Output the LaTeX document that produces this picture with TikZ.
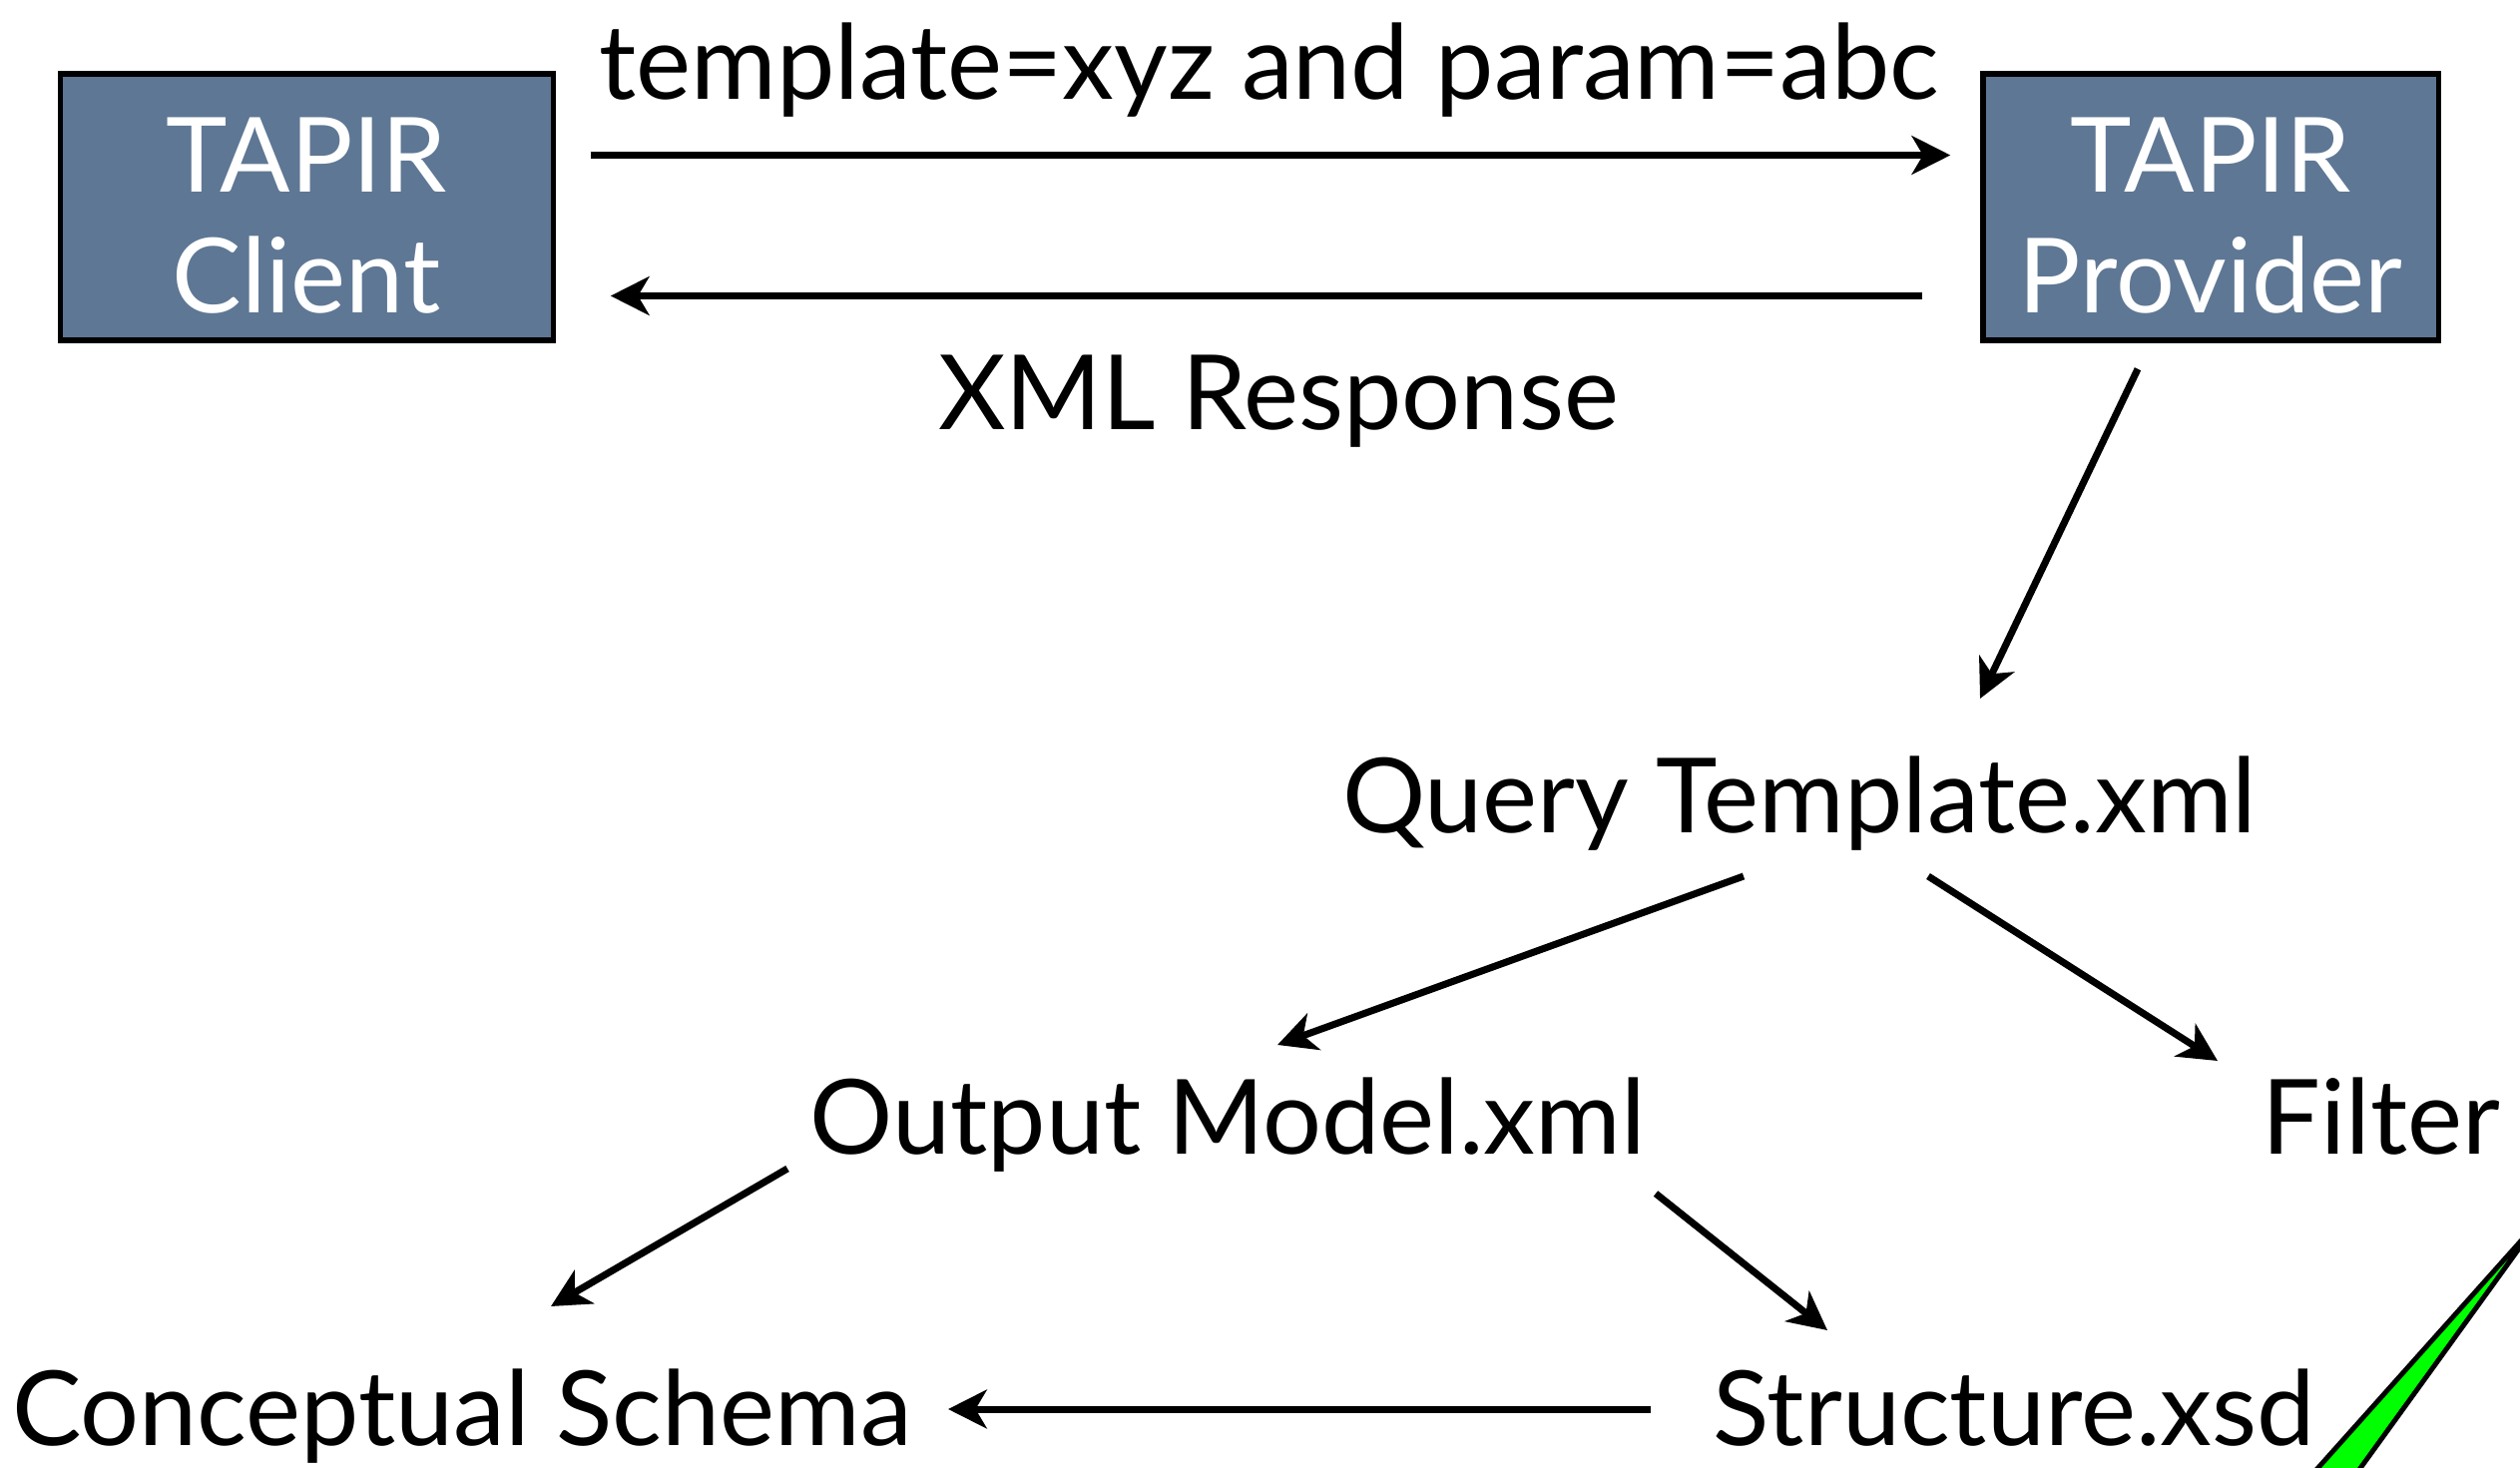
\documentclass[tikz,border=0pt]{standalone}
\usepackage{fontspec}
\setmainfont{Lato}
\usetikzlibrary{calc,arrows.meta}
\definecolor{slate}{RGB}{94,119,148}
\definecolor{brightgreen}{RGB}{0,255,0}
\tikzset{
  lbl/.style={inner sep=0pt, anchor=base, font=\fontsize{29.6pt}{35pt}\selectfont},
  boxlbl/.style={lbl, text=white},
  tapirbox/.style={draw=black, line width=1.5pt, fill=slate, minimum width=4.93cm, minimum height=2.67cm, inner sep=0pt},
  arr/.style={line width=2pt, -{Stealth[length=11pt, width=11pt, inset=3.2pt]}}
}
\begin{document}
\begin{tikzpicture}[x=0.01cm, y=-0.01cm]
\useasboundingbox (0,0) rectangle (2525,1470);
% boxes
\node[tapirbox] (client) at (307.5,207.5) {};
\node[tapirbox, minimum width=4.56cm] (provider) at (2215,207.5) {};
\node[boxlbl] (clientA) at (307,193) {TAPIR};
\node[boxlbl] (clientB) at (307,314) {Client};
\node[boxlbl] (provA) at (2215,193) {TAPIR};
\node[boxlbl] (provB) at (2215,314) {Provider};
% labels
\node[lbl] (req) at (1272,100) {template=xyz and param=abc};
\node[lbl] (resp) at (1281,430) {XML Response};
\node[lbl] (query) at (1803,834) {Query Template.xml};
\node[lbl] (output) at (1230,1156) {Output Model.xml};
\node[lbl] (filter) at (2386,1156) {Filter};
\node[lbl] (concept) at (463,1448) {Conceptual Schema};
\node[lbl] (structure) at (2018,1448) {Structure.xsd};
% connectors
\draw[arr] ($(client.east)+(35,-52)$) -- ($(provider.west)+(-30,-52)$);
\draw[arr] ($(provider.west)+(-58,89)$) -- ($(client.east)+(55,89)$);
\draw[arr] ($(provider.south)+(-73,26)$) -- ($(query.base)+(181,-134)$);
\draw[arr] ($(query.base)+(-56,44)$) -- ($(output.base)+(50,-109)$);
\draw[arr] ($(query.base)+(129,44)$) -- ($(filter.base)+(-164,-93)$);
\draw[arr] ($(output.base)+(-441,15)$) -- ($(concept.base)+(89,-139)$);
\draw[arr] ($(output.base)+(429,40)$) -- ($(structure.base)+(-187,-115)$);
\draw[arr] ($(structure.base)+(-364,-36)$) -- ($(concept.base)+(487,-36)$);
% green pointer
\draw[line width=1.4pt, fill=brightgreen, line join=miter] (2545,1222) -- (2310,1485) -- (2355,1485) -- cycle;
\end{tikzpicture}
\end{document}
